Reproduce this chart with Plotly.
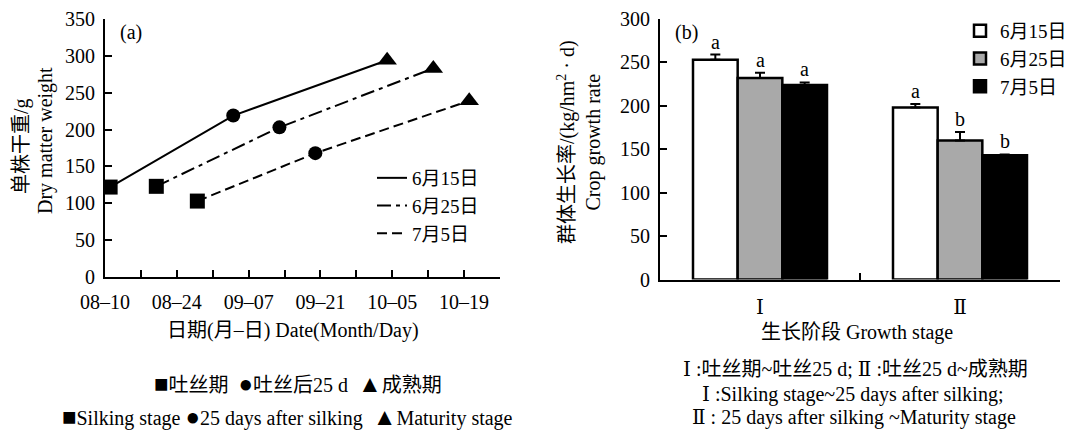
import plotly.graph_objects as go

# ---------------- data ----------------
series_names = ["6月15日", "6月25日", "7月5日"]
stage_symbols = ["square", "circle", "triangle-up"]

dates_0615 = ["2021-08-11", "2021-09-04", "2021-10-04"]
dates_0625 = ["2021-08-20", "2021-09-13", "2021-10-13"]
dates_0705 = ["2021-08-28", "2021-09-20", "2021-10-20"]
weight_0615 = [122, 219, 294]
weight_0625 = [123, 203, 283]
weight_0705 = [103, 168, 239]

date_tick_vals = ["2021-08-10", "2021-08-24", "2021-09-07",
                  "2021-09-21", "2021-10-05", "2021-10-19"]
date_tick_text = ["08–10", "08–24", "09–07", "09–21", "10–05", "10–19"]

stage_cats = ["Ⅰ", "Ⅱ"]
cgr_0615 = [253, 198]
cgr_0625 = [232, 160]
cgr_0705 = [224, 143]
err_0615 = [6, 4]
err_0625 = [6, 10]
err_0705 = [3, 1]
sig_0615 = ["a", "a"]
sig_0625 = ["a", "b"]
sig_0705 = ["a", "b"]

# ---------------- style / geometry ----------------
W, H = 1073, 423          # page body margin of 8px leaves this much visible
OFF = 8


def fx(px):
    return (px - OFF) / W


def fy(py):
    return 1 - (py - OFF) / H


FONT = "Liberation Serif, DejaVu Serif, Noto Sans CJK SC"
FS = 20
LFS = 19
line_dashes = ["solid", "14px,5px,4px,5px", "10px,5px"]
marker_sizes = [15, 14, 17]
bar_fills = ["white", "#a9a9a9", "black"]
BARGAP = 0.33

fig = go.Figure()

# ---- panel (a) ----
left_dates = [dates_0615, dates_0625, dates_0705]
left_vals = [weight_0615, weight_0625, weight_0705]
for name, xs, ys, dash in zip(series_names, left_dates, left_vals, line_dashes):
    fig.add_trace(go.Scatter(
        x=xs, y=ys, mode="lines", name=name,
        line=dict(color="black", width=2, dash=dash),
        xaxis="x", yaxis="y", legend="legend"))
for xs, ys in zip(left_dates, left_vals):
    fig.add_trace(go.Scatter(
        x=xs, y=ys, mode="markers", showlegend=False,
        marker=dict(symbol=stage_symbols, size=marker_sizes, color="black",
                    opacity=1, line=dict(width=0)),
        xaxis="x", yaxis="y"))

# ---- panel (b) ----
right_vals = [cgr_0615, cgr_0625, cgr_0705]
right_errs = [err_0615, err_0625, err_0705]
right_sigs = [sig_0615, sig_0625, sig_0705]
for name, ys, es, fill in zip(series_names, right_vals, right_errs, bar_fills):
    fig.add_trace(go.Bar(
        x=stage_cats, y=ys, name=name,
        marker=dict(color=fill, line=dict(color="black", width=2.5)),
        error_y=dict(type="data", array=es, arrayminus=[0] * len(es),
                     symmetric=False, color="black", thickness=2, width=5),
        xaxis="x2", yaxis="y2", legend="legend2"))

annotations = []
bw = (1 - BARGAP) / len(series_names)
for j, (ys, es, sg) in enumerate(zip(right_vals, right_errs, right_sigs)):
    for i in range(len(stage_cats)):
        annotations.append(dict(
            x=i + (j - 1) * bw, y=ys[i] + es[i], xref="x2", yref="y2",
            text=sg[i], showarrow=False, yanchor="bottom", yshift=0,
            font=dict(size=FS, family=FONT, color="black")))


def paper(text, x, y, size=FS, angle=0):
    annotations.append(dict(
        x=fx(x), y=fy(y), xref="paper", yref="paper", text=text,
        showarrow=False, xanchor="center", yanchor="middle", textangle=angle,
        font=dict(size=size, family=FONT, color="black")))


def big(sym):
    return '<span style="font-size:24px">' + sym + '</span>'


paper("(a)", 131, 33)
paper("(b)", 686, 33)
paper("单株干重/g", 21, 146, angle=-90)
paper("Dry matter weight", 45, 141, angle=-90)
paper("群体生长率/(kg/hm<sup>2</sup> · d)<br>Crop growth rate", 579, 142, angle=-90)
paper("日期(月–日) Date(Month/Day)", 293, 330)
paper(big("■") + "吐丝期  " + big("●") + "吐丝后25 d  " + big("▲") + "成熟期", 298, 384)
paper(big("■") + "Silking stage " + big("●") + "25 days after silking  "
      + big("▲") + "Maturity stage", 288, 417)
paper("生长阶段 Growth stage", 857, 332)
paper("Ⅰ :吐丝期~吐丝25 d; Ⅱ :吐丝25 d~成熟期", 855, 369)
paper("Ⅰ :Silking stage~25 days after silking;", 852, 394)
paper("Ⅱ : 25 days after silking ~Maturity stage", 854, 417)

axis_common = dict(showline=True, linecolor="black", linewidth=2, showgrid=False,
                   zeroline=False, ticks="inside", ticklen=7, tickwidth=2,
                   tickcolor="black", automargin=False,
                   tickfont=dict(size=FS, family=FONT, color="black"))

fig.update_layout(
    width=W, height=H,
    margin=dict(l=0, r=0, t=0, b=0, pad=0),
    paper_bgcolor="white", plot_bgcolor="white",
    font=dict(family=FONT, size=FS, color="black"),
    barmode="group", bargap=BARGAP, bargroupgap=0,
    xaxis=dict(domain=[fx(105), fx(500)], anchor="y", type="date",
               range=["2021-08-10", "2021-10-26"],
               tickvals=date_tick_vals, ticktext=date_tick_text,
               minor=dict(dtick=7 * 86400000, tick0="2021-08-10", ticks="inside",
                          ticklen=7, tickwidth=2, tickcolor="black", showgrid=False),
               ticklabelstandoff=6, **axis_common),
    yaxis=dict(domain=[fy(277), fy(19)], anchor="x",
               range=[0, 350], dtick=50, ticklabelstandoff=4, **axis_common),
    xaxis2=dict(domain=[fx(660), fx(1060)], anchor="y2", type="category",
                range=[-0.5, 1.5], tickson="boundaries",
                ticklabelstandoff=8, **axis_common),
    yaxis2=dict(domain=[fy(279.5), fy(19)], anchor="x2",
                range=[0, 300], dtick=50, ticklabelstandoff=4, **axis_common),
    legend=dict(x=fx(372), y=fy(159), xanchor="left", yanchor="top",
                bgcolor="rgba(0,0,0,0)", font=dict(size=LFS, family=FONT),
                tracegroupgap=0),
    legend2=dict(x=fx(960), y=fy(12), xanchor="left", yanchor="top",
                 bgcolor="rgba(0,0,0,0)", font=dict(size=LFS, family=FONT),
                 tracegroupgap=0),
    annotations=annotations,
)

fig.write_html("out.html")
